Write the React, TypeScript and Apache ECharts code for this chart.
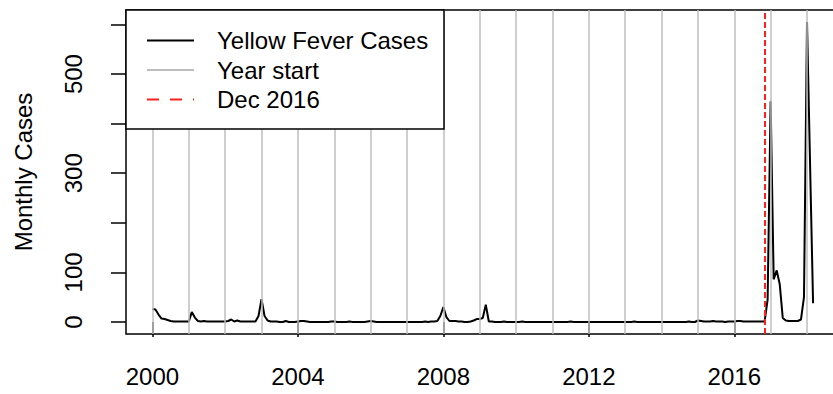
import React, { useEffect, useRef } from "react";
import * as echarts from "echarts";

// Monthly yellow fever case counts, January 2000 to March 2018 (one row per year)
const firstYear = 2000;
const monthlyCases: number[] = [
  26, 25, 15, 7, 6, 4, 2, 1, 1, 1, 1, 1, // 2000
  1, 20, 9, 2, 1, 2, 1, 1, 1, 1, 1, 1, // 2001
  1, 2, 5, 1, 3, 1, 1, 1, 1, 1, 1, 12, // 2002
  46, 12, 3, 1, 1, 1, 0, 0, 2, 0, 0, 0, // 2003
  1, 2, 2, 1, 0, 0, 0, 0, 0, 0, 0, 1, // 2004
  1, 0, 0, 0, 0, 1, 0, 0, 0, 0, 0, 1, // 2005
  2, 1, 0, 0, 0, 0, 0, 0, 0, 0, 0, 0, // 2006
  0, 0, 0, 0, 0, 0, 1, 0, 1, 1, 2, 12, // 2007
  30, 10, 2, 2, 2, 1, 1, 0, 0, 1, 3, 6, // 2008
  6, 8, 35, 1, 1, 0, 0, 0, 1, 0, 0, 0, // 2009
  0, 0, 1, 0, 0, 0, 0, 0, 0, 0, 0, 0, // 2010
  0, 0, 0, 0, 0, 0, 1, 0, 0, 0, 0, 0, // 2011
  0, 0, 0, 0, 0, 0, 0, 0, 0, 0, 0, 0, // 2012
  0, 0, 0, 1, 0, 0, 0, 0, 0, 0, 0, 0, // 2013
  0, 0, 0, 0, 0, 0, 0, 0, 0, 1, 0, 0, // 2014
  3, 2, 1, 1, 1, 2, 1, 1, 1, 0, 1, 1, // 2015
  1, 2, 2, 1, 1, 1, 1, 1, 1, 1, 1, 45, // 2016
  445, 86, 104, 76, 8, 3, 2, 2, 2, 2, 5, 50, // 2017
  605, 320, 38, // 2018
];

const yearStarts: number[] = [
  2000, 2001, 2002, 2003, 2004, 2005, 2006, 2007, 2008, 2009,
  2010, 2011, 2012, 2013, 2014, 2015, 2016, 2017, 2018,
];
const xTickYears: number[] = [2000, 2004, 2008, 2012, 2016];
const yTicks: number[] = [0, 100, 200, 300, 400, 500, 600];
const yTickLabels: number[] = [0, 100, 300, 500];
const decemberMark = 2016.84;

const legendNames: string[] = ["Yellow Fever Cases", "Year start", "Dec 2016"];

const FONT = 'Helvetica, "Liberation Sans", Arial, sans-serif';

export default function App() {
  const ref = useRef<HTMLDivElement | null>(null);

  useEffect(() => {
    if (!ref.current) return;
    const chart = echarts.init(ref.current, undefined, { renderer: "svg" });

    const points = monthlyCases.map((v, i) => [firstYear + i / 12, v]);
    const xFirst = points[0][0];
    const xLast = points[points.length - 1][0];
    const xPad = (xLast - xFirst) * 0.04;
    const yMaxData = Math.max(...monthlyCases);
    const yMinData = Math.min(...monthlyCases);
    const yPad = (yMaxData - yMinData) * 0.04;

    const legendLeft = 126;
    const legendTop = 10;
    const rowY = [40.5, 70, 99.5];

    chart.setOption({
      animation: false,
      backgroundColor: "#ffffff",
      textStyle: { fontFamily: FONT },
      grid: {
        left: 126,
        top: 10,
        width: 713.5,
        height: 324,
        outerBoundsMode: "none",
        containLabel: false,
        show: true,
        borderColor: "#000000",
        borderWidth: 1.5,
        backgroundColor: "transparent",
      },
      xAxis: {
        type: "value",
        min: xFirst - xPad,
        max: xLast + xPad,
        axisLine: { show: false },
        splitLine: { show: false },
        axisTick: {
          show: true,
          customValues: xTickYears,
          length: 15,
          lineStyle: { color: "#000000", width: 1.5 },
        },
        axisLabel: {
          customValues: xTickYears,
          formatter: (v: number) => String(v),
          fontSize: 24,
          color: "#000000",
          fontFamily: FONT,
          margin: 30,
        },
      },
      yAxis: {
        type: "value",
        min: yMinData - yPad,
        max: yMaxData + yPad,
        axisLine: { show: false },
        splitLine: { show: false },
        axisTick: {
          show: true,
          customValues: yTicks,
          length: 15,
          lineStyle: { color: "#000000", width: 1.5 },
        },
        axisLabel: {
          customValues: yTickLabels,
          formatter: (v: number) => String(v),
          rotate: 90,
          fontSize: 24,
          color: "#000000",
          fontFamily: FONT,
          margin: 41,
        },
        name: "Monthly Cases",
        nameLocation: "middle",
        nameRotate: 90,
        nameGap: 91,
        nameTextStyle: { fontSize: 24, color: "#000000", fontFamily: FONT },
      },
      series: [
        {
          type: "line",
          data: [],
          z: 1,
          silent: true,
          markLine: {
            silent: true,
            symbol: ["none", "none"],
            label: { show: false },
            lineStyle: { color: "#bebebe", width: 1.5, type: "solid" },
            data: yearStarts.map((y) => ({ xAxis: y })),
          },
        },
        {
          type: "line",
          name: legendNames[0],
          data: points,
          z: 3,
          showSymbol: false,
          symbol: "none",
          lineStyle: { color: "#000000", width: 2 },
        },
        {
          type: "line",
          data: [],
          z: 4,
          silent: true,
          markLine: {
            silent: true,
            symbol: ["none", "none"],
            label: { show: false },
            lineStyle: { color: "#ff2020", width: 2, type: [6, 3] },
            data: [{ xAxis: decemberMark }],
          },
        },
      ],
      graphic: {
        elements: [
          {
            type: "rect",
            z: 100,
            shape: { x: legendLeft, y: legendTop, width: 318, height: 119 },
            style: { fill: "#ffffff", stroke: "#000000", lineWidth: 1.5 },
          },
          {
            type: "line",
            z: 101,
            shape: { x1: 147, y1: rowY[0], x2: 194, y2: rowY[0] },
            style: { stroke: "#000000", lineWidth: 2.2 },
          },
          {
            type: "line",
            z: 101,
            shape: { x1: 147, y1: rowY[1], x2: 194, y2: rowY[1] },
            style: { stroke: "#bebebe", lineWidth: 2.2 },
          },
          {
            type: "line",
            z: 101,
            shape: { x1: 147, y1: rowY[2], x2: 194, y2: rowY[2] },
            style: { stroke: "#ff2020", lineWidth: 2.2, lineDash: [12, 11] },
          },
          ...legendNames.map((name, i) => ({
            type: "text",
            z: 101,
            x: 217,
            y: rowY[i],
            style: {
              text: name,
              fontSize: 24,
              fontFamily: FONT,
              fill: "#000000",
              verticalAlign: "middle",
              align: "left",
            },
          })),
        ],
      },
    });

    return () => {
      chart.dispose();
    };
  }, []);

  return (
    <div
      ref={ref}
      style={{ position: "absolute", left: 0, top: 0, width: 833, height: 394 }}
    />
  );
}
